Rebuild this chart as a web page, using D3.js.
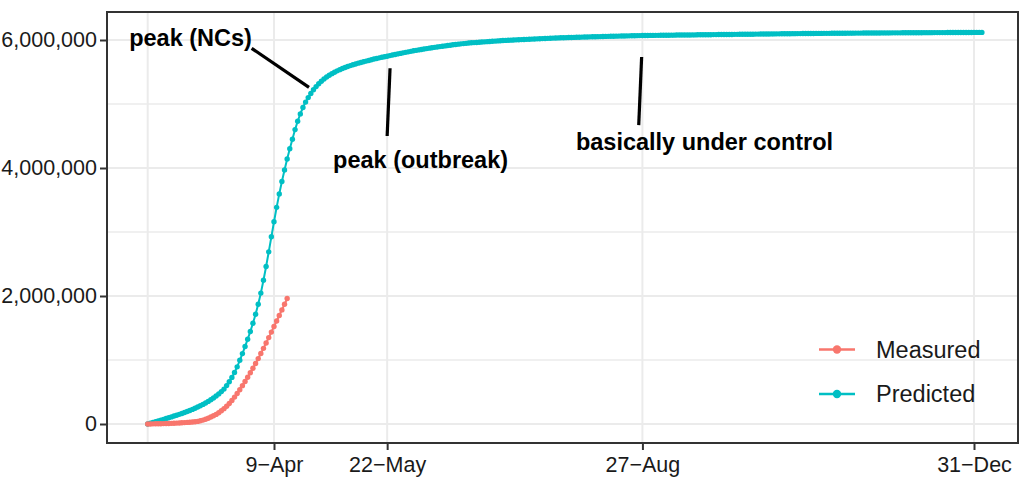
<!DOCTYPE html>
<html><head><meta charset="utf-8">
<script src="https://cdn.jsdelivr.net/npm/d3@7"></script>
<style>body{margin:0;background:#fff}svg{display:block}</style>
</head><body><svg id="c" width="1021" height="489"></svg>
<script>
// ---------- data ----------
const startDate = "2020-02-21";            // first day of both series (daily)
// cumulative cases, thousands
const measuredK = [0,1,2,3,4,5,6,7,8,10,12,14,16,19,22,25,28,32,36,41,
  50,61,75,91,109,128,150,176,206,240,278,320,368,420,476,536,599,664,731,800,
  872,946,1022,1101,1182,1265,1350,1436,1523,1609,1696,1783,1871,1960];
const predictedK = [0,12,24,36,48,60,72,85,98,111,124,137,151,165,180,195,211,228,246,265,
  285,306,329,353,379,407,437,470,506,545,
  600,660,728,805,893,995,1100,1210,1325,1445,1575,1715,1870,2045,2245,2460,2690,2925,3160,3385,
  3595,3790,3970,4140,4300,4450,4600,4730,4845,4945,
  5030,5100,5165,5222,5272,5316,5355,5390,5421,5449,5474,
  5497,5518,5537,5555,5571,5586,5600,5613,5626,5638,5649,5660,5670,5680,5692,5702,5712,5721,5730,5739,5747,
  5756,5765,5774,5783,5791,5799,5807,5815,5823,5831,5838,5845,5852,5859,5866,5873,5879,5885,5891,5897,
  5903,5908,5914,5919,5925,5930,5935,5940,
  5944,5948,5952,5956,5959,5962,5965,5968,5971,5974,5977,5980,5983,5986,5989,5992,
  5994,5996,5998,6000,6002,6004,6006,6008,6010,6012,6014,6016,6018,6020,6022,6024,6026,6028,
  6030,6031,6033,6034,6036,6037,6038,6040,6041,6042,6044,6045,6046,6047,6049,6050,6051,6052,6053,6055,
  6056,6057,6058,6059,6060,6061,6062,6063,6064,6065,6066,6067,6068,6069,6070,
  6071,6071,6072,6072,6073,6073,6074,6074,6075,6075,6076,6076,6077,6077,6078,6078,6079,6079,6080,6080,
  6081,6081,6082,6082,6083,6083,6084,6084,6085,6085,6086,6086,6087,6087,6088,6088,6089,6089,6090,6090,
  6091,6091,6092,6092,6093,6093,6094,6094,6095,6095,6096,6096,6097,6097,6098,6098,6099,6099,6100,6100,
  6101,6101,
  6102,6102,6102,6103,6103,6103,6104,6104,6104,6105,6105,6105,6106,6106,6106,6107,6107,6107,
  6108,6108,6108,6109,6109,6109,6109,6110,6110,6110,6111,6111,6111,6111,6112,6112,6112,6112,
  6113,6113,6113,6113,6114,6114,6114,6114,6115,6115,6115,6115,6116,6116,6116,6116,6116,
  6117,6117,6117,6117,6117,6118,6118,6118,6118,6118,6119,6119,6119,6119];
const seriesNames  = ["Measured", "Predicted"];
const seriesColors = ["#F8766D", "#00BFC4"];
const xTickDates   = ["2020-04-09", "2020-05-22", "2020-08-27", "2020-12-31"];
const xMinorDates  = ["2020-02-21"];
const yTicks       = [0, 2000000, 4000000, 6000000];
const yMinorTicks  = [1000000, 3000000, 5000000];
// annotations: [text, dayOffset, value]
const annoTexts    = ["peak (NCs)", "peak (outbreak)", "basically under control"];
const annoTextPos  = [[16.3, 5906000], [103.7, 4000000], [211.6, 4280000]];
// segments: [day1, value1, day2, value2]
const annoSegs     = [[39.5, 5870000, 61.3, 5260000],
                      [92.1, 5558000, 91.0, 4500000],
                      [187.7, 5734000, 186.6, 4670000]];

// ---------- layout ----------
const W = 1021, H = 489;
const P = {left: 107, right: 1018, top: 12, bottom: 443};
const FONT = "'Liberation Sans', Arial, Helvetica, sans-serif";

const parse = d3.utcParse("%Y-%m-%d");
const t0 = parse(startDate);
const dayToDate = d => new Date(t0.getTime() + d * 864e5);

const x = d3.scaleUtc()
  .domain([parse("2020-04-09"), parse("2020-12-31")])
  .range([274, 974]);
const y = d3.scaleLinear().domain([0, 6000000]).range([424, 40]);

const svg = d3.select("#c");
svg.append("rect").attr("width", W).attr("height", H).attr("fill", "#fff");

// gridlines
const grid = svg.append("g");
yMinorTicks.concat(yTicks).forEach(v => {
  grid.append("line").attr("x1", P.left).attr("x2", P.right)
    .attr("y1", y(v)).attr("y2", y(v))
    .attr("stroke", "#EBEBEB").attr("stroke-width", yTicks.includes(v) ? 2 : 1.6);
});
xMinorDates.concat(xTickDates).forEach(s => {
  const xv = x(parse(s));
  grid.append("line").attr("x1", xv).attr("x2", xv)
    .attr("y1", P.top).attr("y2", P.bottom)
    .attr("stroke", "#EBEBEB").attr("stroke-width", 2);
});

// series
const series = [
  {name: seriesNames[1], color: seriesColors[1], vals: predictedK},
  {name: seriesNames[0], color: seriesColors[0], vals: measuredK}
];
const line = d3.line().x(d => x(dayToDate(d[0]))).y(d => y(d[1] * 1000));
series.forEach(s => {
  const pts = s.vals.map((v, i) => [i, v]);
  const g = svg.append("g");
  g.append("path").datum(pts).attr("d", line)
    .attr("fill", "none").attr("stroke", s.color).attr("stroke-width", 2);
  g.selectAll("circle").data(pts).join("circle")
    .attr("cx", d => x(dayToDate(d[0]))).attr("cy", d => y(d[1] * 1000))
    .attr("r", 2.7).attr("fill", s.color);
});

// annotations
annoSegs.forEach(s => {
  svg.append("line")
    .attr("x1", x(dayToDate(s[0]))).attr("y1", y(s[1]))
    .attr("x2", x(dayToDate(s[2]))).attr("y2", y(s[3]))
    .attr("stroke", "#000").attr("stroke-width", 3.2);
});
annoTexts.forEach((t, i) => {
  svg.append("text").text(t)
    .attr("x", x(dayToDate(annoTextPos[i][0]))).attr("y", y(annoTextPos[i][1]))
    .attr("text-anchor", "middle").attr("font-family", FONT)
    .attr("font-weight", "bold").attr("font-size", 23.5).attr("fill", "#000");
});

// legend
const legY = [349.5, 394];
seriesNames.forEach((n, i) => {
  const g = svg.append("g");
  g.append("line").attr("x1", 819).attr("x2", 855).attr("y1", legY[i]).attr("y2", legY[i])
    .attr("stroke", seriesColors[i]).attr("stroke-width", 2.6);
  g.append("circle").attr("cx", 837).attr("cy", legY[i]).attr("r", 4.2).attr("fill", seriesColors[i]);
  g.append("text").text(n).attr("x", 876).attr("y", legY[i] + 8.3)
    .attr("font-family", FONT).attr("font-size", 23.5).attr("fill", "#1a1a1a");
});

// panel border
svg.append("rect").attr("x", P.left).attr("y", P.top)
  .attr("width", P.right - P.left).attr("height", P.bottom - P.top)
  .attr("fill", "none").attr("stroke", "#333").attr("stroke-width", 2);

// axes
const fmtDate = d3.utcFormat("%-d");
const fmtMon = d3.utcFormat("%b");
const xAxis = d3.axisBottom(x)
  .tickValues(xTickDates.map(parse))
  .tickFormat(d => fmtDate(d) + "\u2212" + fmtMon(d))
  .tickSize(7).tickPadding(7);
const gx = svg.append("g").attr("transform", `translate(0,${P.bottom})`).call(xAxis);
gx.select(".domain").remove();
gx.selectAll(".tick line").attr("stroke", "#333").attr("stroke-width", 2);
gx.selectAll(".tick text").attr("font-family", FONT).attr("font-size", 21.5).attr("fill", "#1a1a1a");

const yAxis = d3.axisLeft(y).tickValues(yTicks).tickFormat(d3.format(","))
  .tickSize(7).tickPadding(3);
const gy = svg.append("g").attr("transform", `translate(${P.left},0)`).call(yAxis);
gy.select(".domain").remove();
gy.selectAll(".tick line").attr("stroke", "#333").attr("stroke-width", 2);
gy.selectAll(".tick text").attr("font-family", FONT).attr("font-size", 21.5).attr("fill", "#1a1a1a");
</script>
</body></html>
